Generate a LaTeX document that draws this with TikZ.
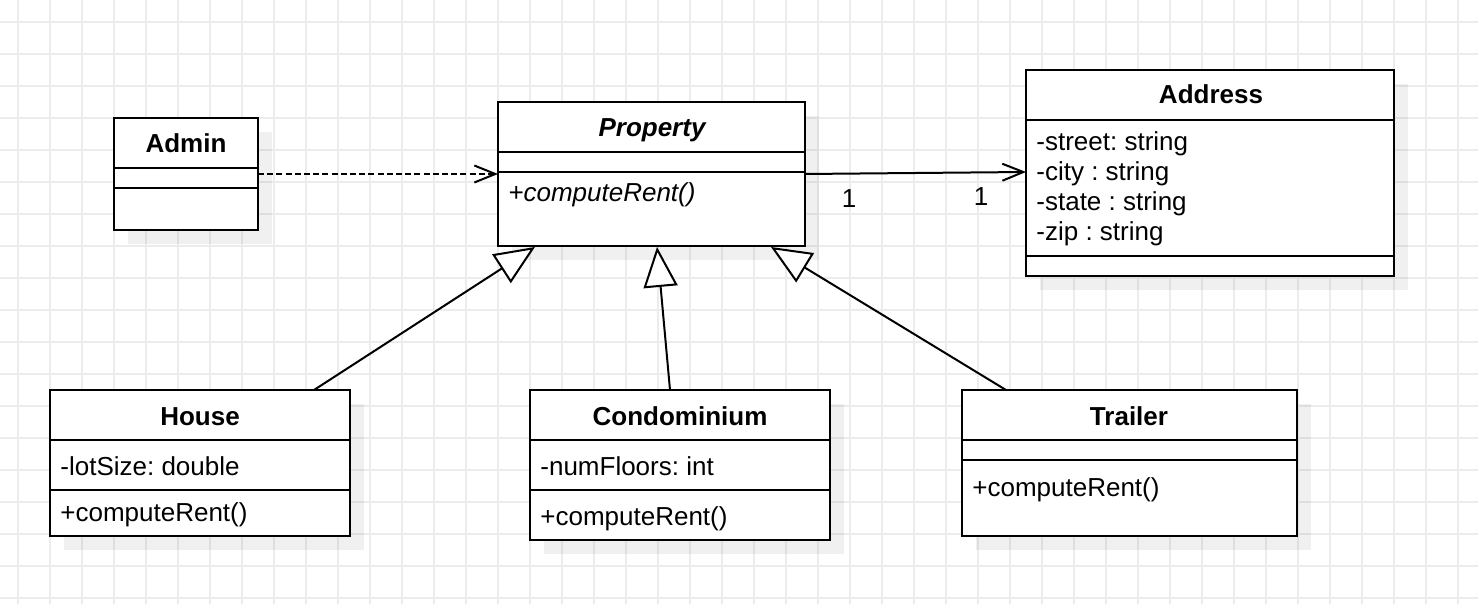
\documentclass[tikz,border=0pt]{standalone}
\usepackage{fontspec}
\setmainfont{Liberation Sans}
\usetikzlibrary{arrows.meta,shadows,calc}
\definecolor{gridc}{RGB}{236,236,236}
\frenchspacing
\begin{document}
\begin{tikzpicture}[x=0.5pt,y=-0.5pt,
  umlbox/.style={draw=black,line width=1pt,fill=white,inner sep=0pt,outer sep=0pt,anchor=north west,
     drop shadow={shadow xshift=7pt,shadow yshift=-7pt,fill=black,opacity=0.06}},
  divider/.style={line width=1pt},
  gridline/.style={draw=gridc,line width=0.75pt},
  txt/.style={inner sep=0pt,font=\fontsize{13pt}{15pt}\selectfont},
  title/.style={txt,anchor=base,font=\fontsize{13pt}{15pt}\selectfont\bfseries},
  member/.style={txt,anchor=base west},
  gen/.style={line width=1pt,-{Triangle[length=20pt,width=17pt,fill=white,line width=1pt]}},
  assoc/.style={line width=1pt,-{Straight Barb[length=10.5pt,width=8.5pt,line width=1pt]}},
  dep/.style={assoc,dash pattern=on 3pt off 1.6pt}
]
\fill[white] (0,0) rectangle (1478,604);
\useasboundingbox (0,0) rectangle (1478,604);
% grid
\foreach \i in {0,...,45} \draw[gridline] ({18+32*\i},0) -- ({18+32*\i},604);
\foreach \j in {0,...,18} \draw[gridline] (0,{22+32*\j}) -- (1478,{22+32*\j});

% class boxes
\node[umlbox,minimum width=72pt,minimum height=56pt] (admin) at (114,118) {};
\node[umlbox,minimum width=153.5pt,minimum height=72pt] (property) at (498,102) {};
\node[umlbox,minimum width=184pt,minimum height=103pt] (address) at (1026,70) {};
\node[umlbox,minimum width=150pt,minimum height=73pt] (house) at (50,390) {};
\node[umlbox,minimum width=150pt,minimum height=75pt] (condo) at (530,390) {};
\node[umlbox,minimum width=167.5pt,minimum height=73pt] (trailer) at (962,390) {};

% dividers
\draw[divider] ($(admin.north west)+(0,50)$) -- ($(admin.north east)+(0,50)$);
\draw[divider] ($(admin.north west)+(0,70)$) -- ($(admin.north east)+(0,70)$);
\draw[divider] ($(property.north west)+(0,50)$) -- ($(property.north east)+(0,50)$);
\draw[divider] ($(property.north west)+(0,70)$) -- ($(property.north east)+(0,70)$);
\draw[divider] ($(address.north west)+(0,50)$) -- ($(address.north east)+(0,50)$);
\draw[divider] ($(address.north west)+(0,186)$) -- ($(address.north east)+(0,186)$);
\draw[divider] ($(house.north west)+(0,50)$) -- ($(house.north east)+(0,50)$);
\draw[divider] ($(house.north west)+(0,100)$) -- ($(house.north east)+(0,100)$);
\draw[divider] ($(condo.north west)+(0,50)$) -- ($(condo.north east)+(0,50)$);
\draw[divider] ($(condo.north west)+(0,100)$) -- ($(condo.north east)+(0,100)$);
\draw[divider] ($(trailer.north west)+(0,50)$) -- ($(trailer.north east)+(0,50)$);
\draw[divider] ($(trailer.north west)+(0,70)$) -- ($(trailer.north east)+(0,70)$);

% texts
\node[title] (tadmin) at (186,153) {Admin};
\node[title,font=\fontsize{13pt}{15pt}\selectfont\bfseries\itshape] (tprop) at (652,137) {Property};
\node[member,font=\fontsize{13pt}{15pt}\selectfont\itshape] (mprop) at (508,202) {+computeRent()};
\node[title] (taddr) at (1211,104) {Address};
\node[member] (a1) at (1036,151) {-street: string};
\node[member] (a2) at (1036,181) {-city : string};
\node[member] (a3) at (1036,211) {-state : string};
\node[member] (a4) at (1036,241) {-zip : string};
\node[title] (thouse) at (200,425) {House};
\node[member] (h1) at (60,475) {-lotSize: double};
\node[member] (h2) at (60,521) {+computeRent()};
\node[title] (tcondo) at (680,425) {Condominium};
\node[member] (c1) at (540,475) {-numFloors: int};
\node[member] (c2) at (540,525) {+computeRent()};
\node[title] (ttrail) at (1129,425) {Trailer};
\node[member] (tr1) at (972,496) {+computeRent()};

% connectors
\draw[dep] (admin.east) -- (admin.east -| property.west);
\draw[assoc] (property.east) -- ($(address.north west)+(0,102)$);
\node[txt,anchor=base] (m1) at (849,208) {1};
\node[txt,anchor=base] (m2) at (981,206) {1};
\draw[gen] ($(house.north west)+(264,0)$) -- ($(property.south west)+(37,1)$);
\draw[gen] ($(condo.north west)+(140,0)$) -- ($(property.south west)+(159,1)$);
\draw[gen] ($(trailer.north west)+(44,0)$) -- ($(property.south west)+(273,1)$);
\end{tikzpicture}
\end{document}
